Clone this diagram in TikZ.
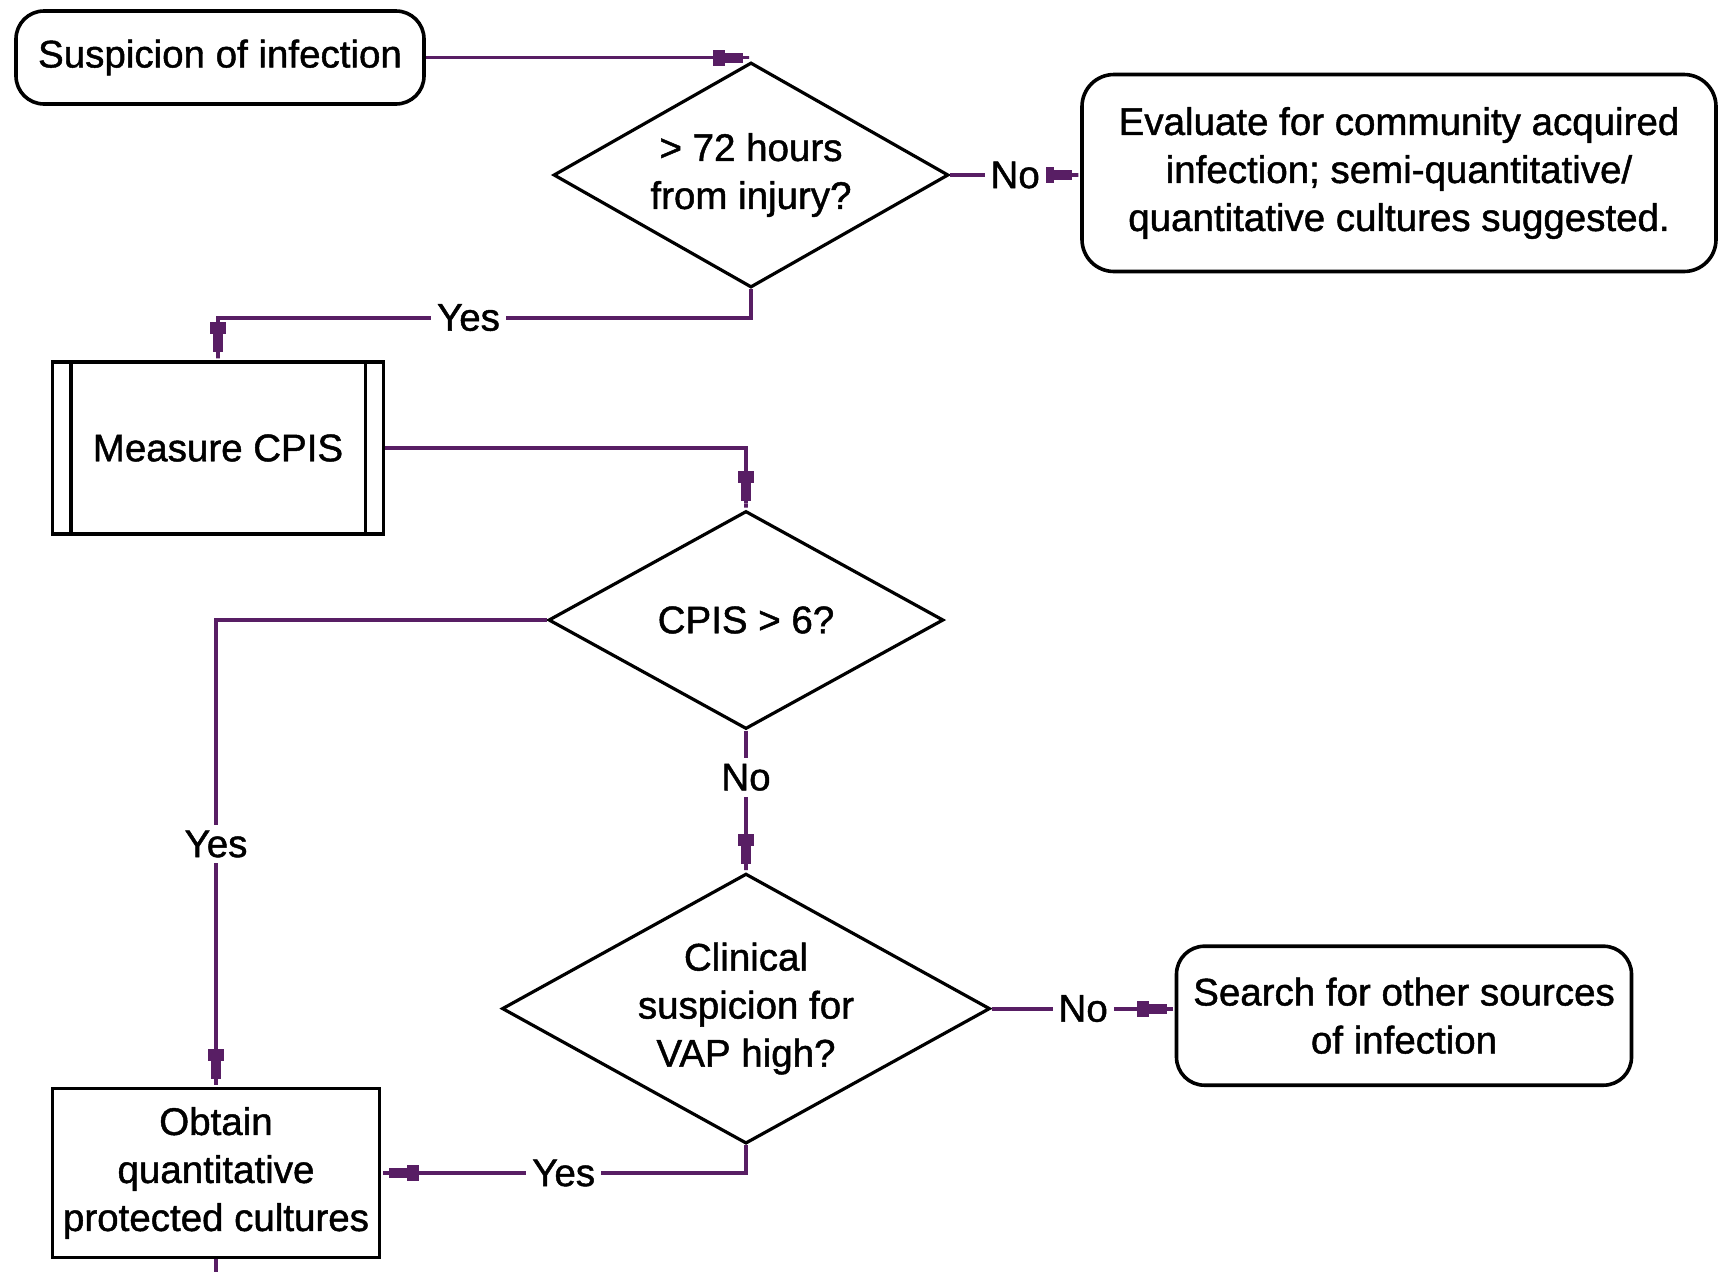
\documentclass[tikz,border=0pt]{standalone}
\usepackage{fontspec}
\setmainfont{Liberation Sans}[FakeBold=1.2]
\usetikzlibrary{shapes.geometric,arrows.meta,calc}
\definecolor{connc}{RGB}{88,30,100}
\begin{document}
\begin{tikzpicture}[x=1pt,y=-1pt,
  txt/.style={font=\fontsize{38.5pt}{48pt}\selectfont, align=center},
  roundbox/.style={txt, draw=black, line width=3.6pt, rounded corners=28pt, inner sep=0pt},
  plainbox/.style={txt, draw=black, line width=3.6pt, inner sep=0pt},
  decision/.style={txt, draw=black, line width=3.2pt, diamond, inner sep=0pt},
  flowtip/.tip={Rectangle[length=12pt,width=16pt,sep=0pt] Rectangle[length=18pt,width=10pt,sep=0pt] Rectangle[length=8pt,width=3.8pt,sep=0pt]},
  connector/.style={draw=connc, line width=3.8pt, -flowtip},
  plainline/.style={draw=connc, line width=3.8pt},
  lbl/.style={txt, fill=white, inner sep=6pt}]

\fill[white] (0,0) rectangle (1719,1272);
\useasboundingbox (0,0) rectangle (1719,1272);

% nodes
\node[roundbox, minimum width=408pt, minimum height=93pt] (susp) at (220,57.5) {Suspicion of infection};
\node[decision, minimum width=395pt, minimum height=225pt, aspect=1.76] (d1) at (751,175) {> 72 hours\\from injury?};
\node[roundbox, minimum width=634pt, minimum height=197pt, rounded corners=32pt] (eval) at (1399,173)
  {Evaluate for community acquired\\infection; semi-quantitative/\\quantitative cultures suggested.};
\node[plainbox, minimum width=331pt, minimum height=172pt] (meas) at (218,448) {Measure CPIS};
\draw[line width=3.6pt] ([xshift=20pt]meas.north west) -- ([xshift=20pt]meas.south west);
\draw[line width=3.6pt] ([xshift=-20pt]meas.north east) -- ([xshift=-20pt]meas.south east);
\node[decision, minimum width=395pt, minimum height=218pt, aspect=1.8] (d2) at (746,620) {CPIS > 6?};
\node[decision, minimum width=488pt, minimum height=270pt, aspect=1.8] (d3) at (746,1008.6) {Clinical\\suspicion for\\VAP high?};
\node[roundbox, minimum width=455pt, minimum height=139pt] (search) at (1404,1015.7) {Search for other sources\\of infection};
\node[plainbox, minimum width=327pt, minimum height=169pt] (obtain) at (216,1173) {Obtain\\quantitative\\protected cultures};
\coordinate (bot) at (216,1272);

% connectors
\draw[connector] (susp.east) -- (susp.east -| d1.north);
\draw[connector] (d1.east) -- node[lbl]{No} (d1.east -| eval.west);
\draw[connector] (d1.south) -- ++(0,28.5) -| node[lbl,pos=0.265]{Yes} (meas.north);
\draw[connector] (meas.east) -| (d2.north);
\draw[connector] (d2.west) -| node[lbl,pos=0.74]{Yes} (obtain.north);
\draw[connector] (d2.south) -- node[lbl,pos=0.33]{No} (d3.north);
\draw[connector] (d3.east) -- node[lbl]{No} (d3.east -| search.west);
\draw[connector] (d3.south) |- node[lbl,pos=0.75]{Yes} (obtain.east);
\draw[plainline] (obtain.south) -- (bot);
\end{tikzpicture}
\end{document}
